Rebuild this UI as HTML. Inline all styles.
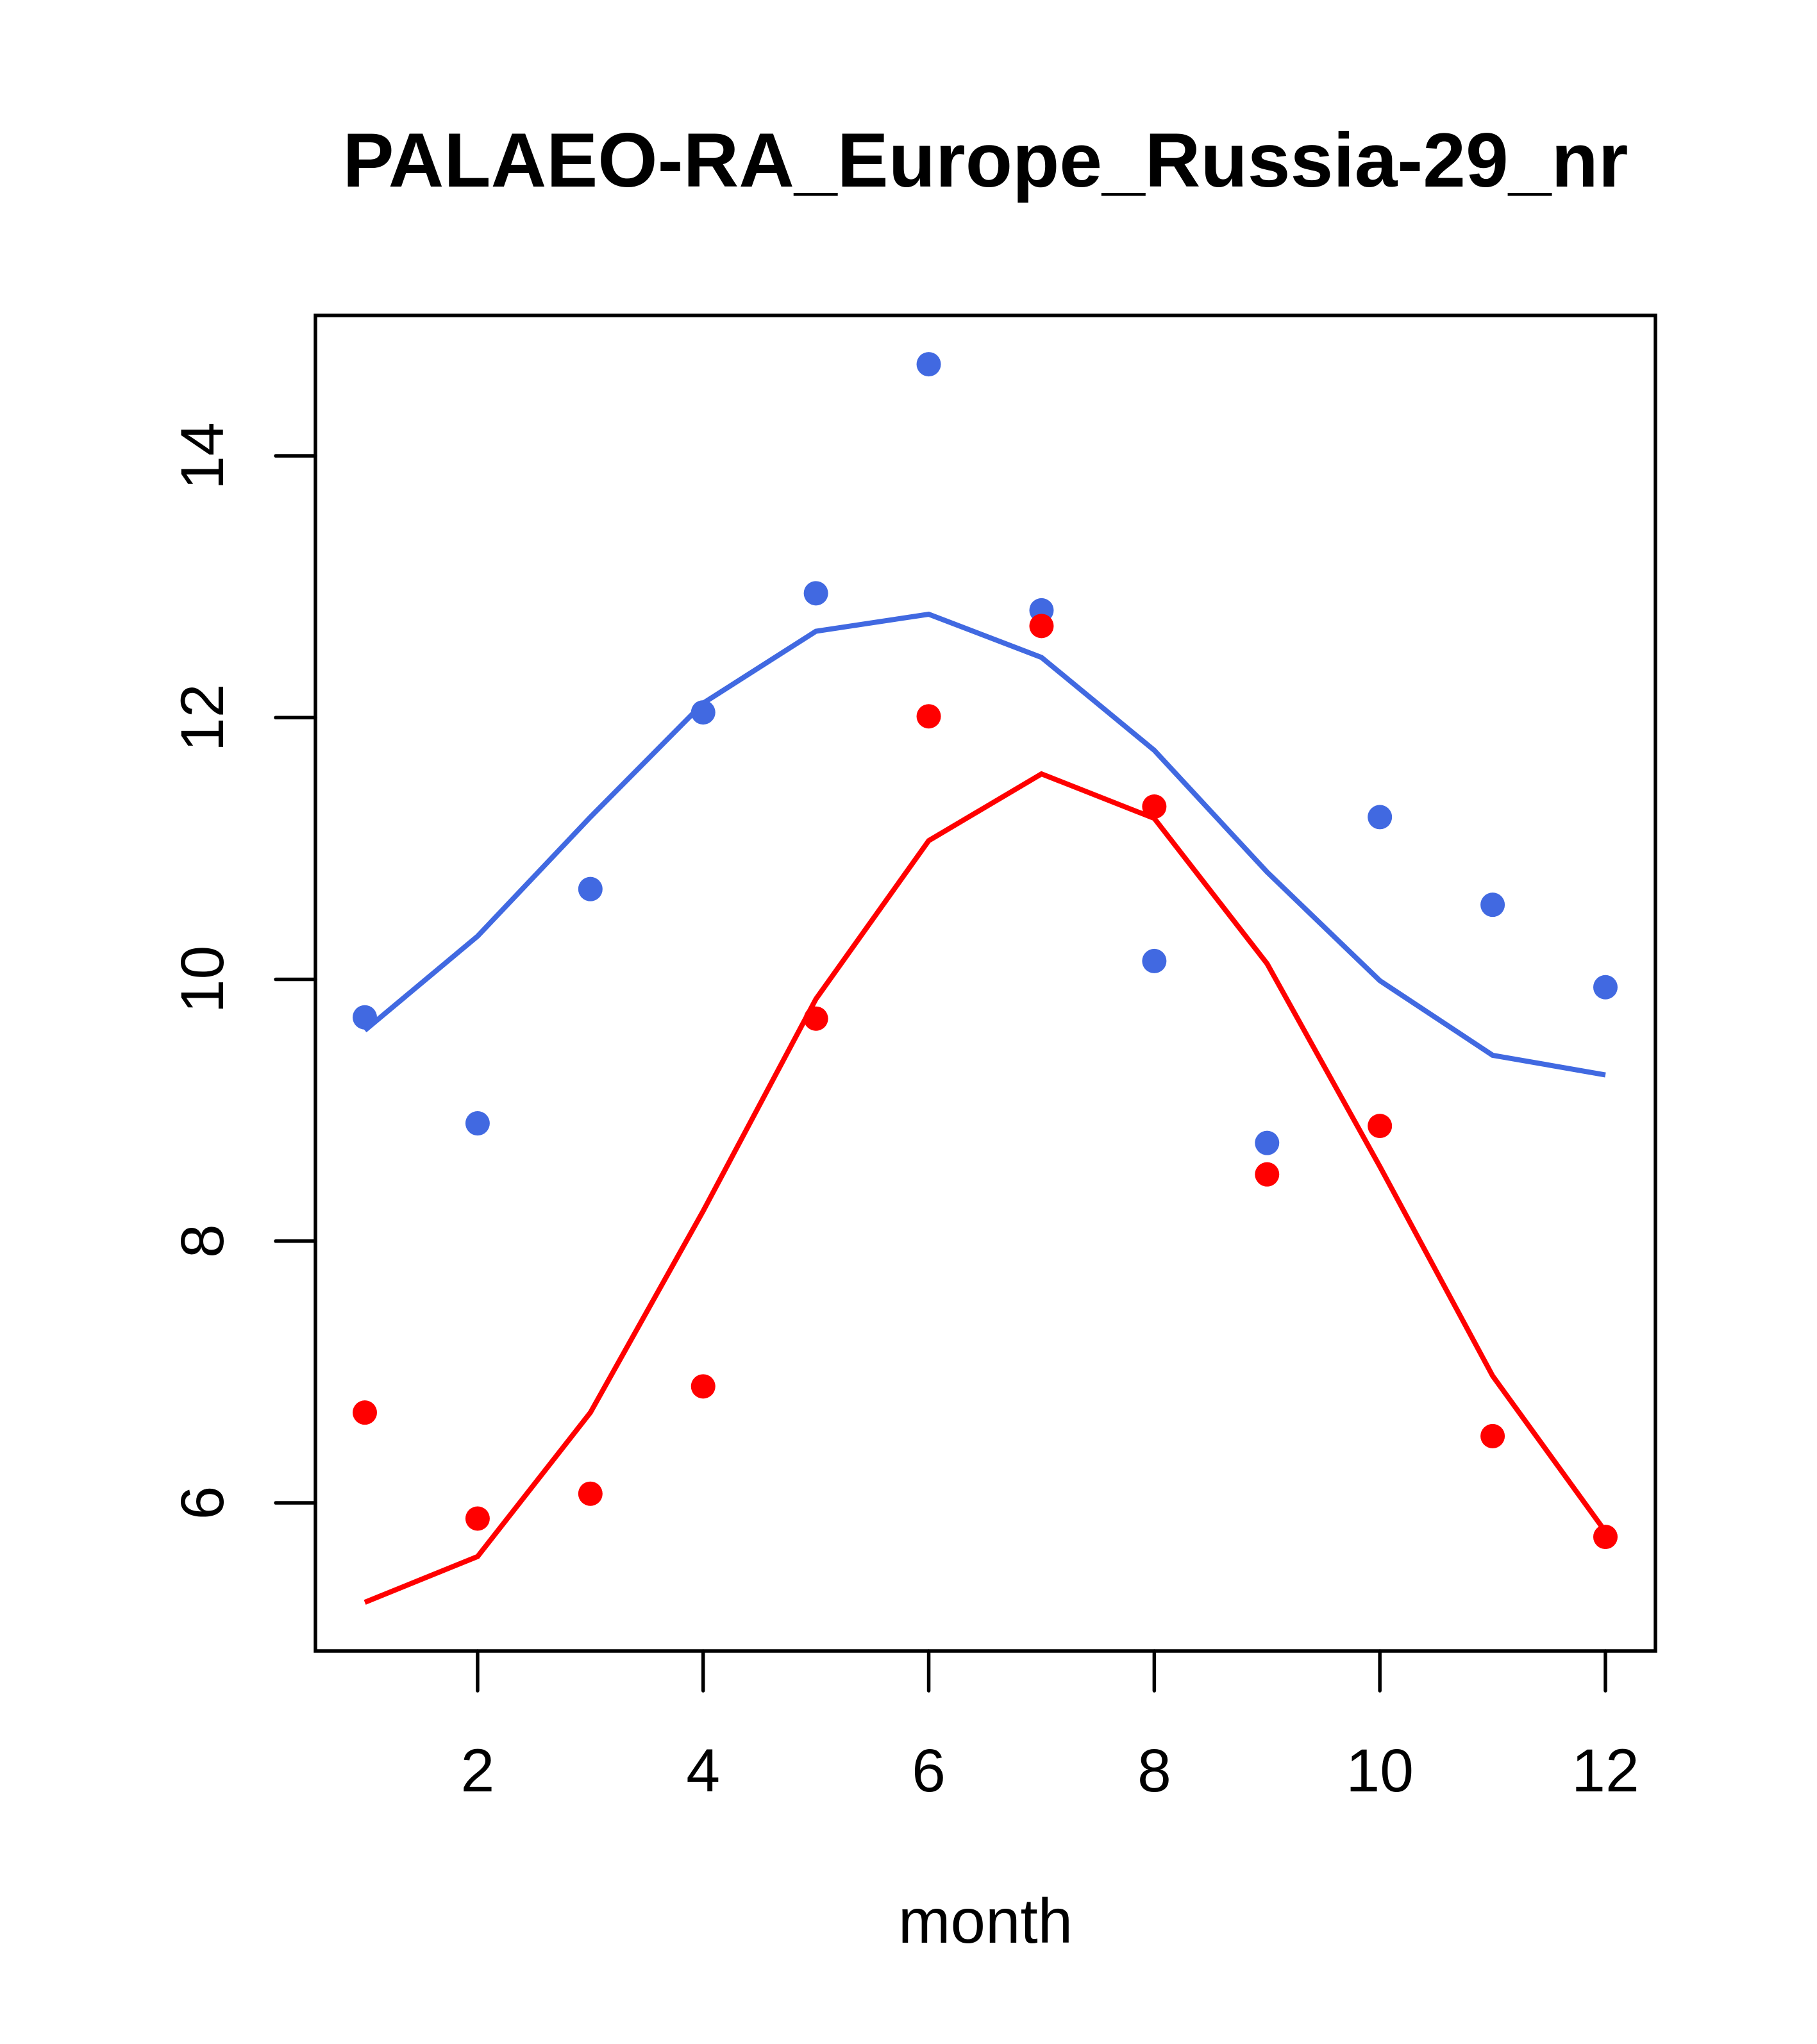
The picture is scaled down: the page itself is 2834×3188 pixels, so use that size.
<!DOCTYPE html>
<html><head><meta charset="utf-8"><style>body{margin:0;background:#fff}svg{display:block}</style></head>
<body>
<svg id="chart" width="2834" height="3188" xmlns="http://www.w3.org/2000/svg" font-family="Liberation Sans, sans-serif">
<text x="1537" y="291" font-size="120" font-weight="bold" text-anchor="middle">PALAEO-RA_Europe_Russia-29_nr</text>
<rect x="492" y="492" width="2090" height="2083" fill="none" stroke="#000" stroke-width="5.5"/>
<g id="xaxis"></g>
<g id="yaxis"></g>
<text x="1537" y="3030" font-size="98" text-anchor="middle">month</text>
<g id="series"></g>
</svg>
<script>
const months=[1,2,3,4,5,6,7,8,9,10,11,12];
const bluePoints=[9.71,8.90,10.69,12.04,12.95,14.70,12.82,10.14,8.75,11.24,10.57,9.94];
const blueLine=[9.61,10.33,11.24,12.11,12.66,12.79,12.46,11.75,10.82,9.99,9.42,9.27];
const redPoints=[6.69,5.88,6.07,6.89,9.70,12.01,12.70,11.32,8.51,8.88,6.51,5.74];
const redLine=[5.24,5.59,6.69,8.23,9.85,11.06,11.57,11.23,10.12,8.57,6.97,5.78];
const xTicks=[2,4,6,8,10,12];
const yTicks=[6,8,10,12,14];
const NS='http://www.w3.org/2000/svg';
function X(m){return 569+(m-1)*(2504-569)/11;}
function Y(v){return 711+(14-v)*(2344-711)/8;}
function mk(t,a,p){const e=document.createElementNS(NS,t);for(const k in a)e.setAttribute(k,a[k]);p.appendChild(e);return e;}
const xa=document.getElementById('xaxis'),ya=document.getElementById('yaxis'),sr=document.getElementById('series');
xTicks.forEach(t=>{
 const l=mk('line',{x1:X(t),x2:X(t),y1:2575,y2:2637,stroke:'#000','stroke-width':5.5,'stroke-linecap':'round'},xa);
 
 
 const tx=mk('text',{x:X(t),y:2794,'font-size':95,'text-anchor':'middle'},xa);tx.textContent=t;
 
 
});
yTicks.forEach(t=>{
 const l=mk('line',{x1:430,x2:492,y1:Y(t),y2:Y(t),stroke:'#000','stroke-width':5.5,'stroke-linecap':'round'},ya);
 
 
 const tx=mk('text',{x:0,y:0,'font-size':95,'text-anchor':'middle',transform:`translate(348,${Y(t)}) rotate(-90)`},ya);tx.textContent=t;
 
 
});
function line(vals,col,name){
 const p=mk('polyline',{points:vals.map((v,i)=>X(months[i])+','+Y(v)).join(' '),fill:'none',stroke:col,'stroke-width':8},sr);
 
 
}
function pts(vals,col,name){
 vals.forEach((v,i)=>{const c=mk('circle',{cx:X(months[i]),cy:Y(v),r:19,fill:col},sr);
 
 });
}
line(blueLine,'#4169e1','blue-line');
line(redLine,'#ff0000','red-line');
pts(bluePoints,'#4169e1','blue-point');
pts(redPoints,'#ff0000','red-point');
</script>
</body></html>
